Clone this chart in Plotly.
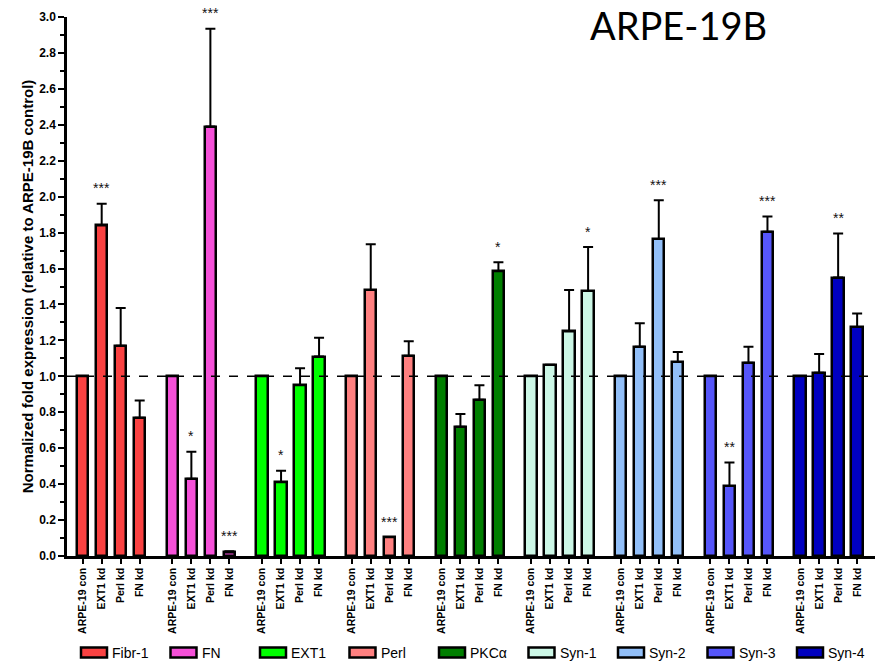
import plotly.graph_objects as go

# Gene groups, knock-down conditions and colours
groups = ["Fibr-1", "FN", "EXT1", "Perl", "PKCα", "Syn-1", "Syn-2", "Syn-3", "Syn-4"]
conditions = ["ARPE-19 con", "EXT1 kd", "Perl kd", "FN kd"]
colors = ["#FA4242", "#F550D8", "#00FF00", "#FF8080", "#007F00",
          "#CCF7E6", "#92BFF8", "#5656FA", "#0000C0"]

# Mean normalized fold expression per group (one value per condition)
fibr1 = [1.0, 1.84, 1.17, 0.77]
fn = [1.0, 0.43, 2.39, 0.02]
ext1 = [1.0, 0.41, 0.95, 1.11]
perl = [1.0, 1.48, 0.105, 1.115]
pkca = [1.0, 0.72, 0.87, 1.585]
syn1 = [1.0, 1.065, 1.25, 1.475]
syn2 = [1.0, 1.165, 1.765, 1.08]
syn3 = [1.0, 0.39, 1.075, 1.805]
syn4 = [1.0, 1.02, 1.55, 1.275]

# Upper error (SEM)
fibr1_err = [0, 0.12, 0.21, 0.095]
fn_err = [0, 0.15, 0.545, 0.006]
ext1_err = [0, 0.065, 0.095, 0.105]
perl_err = [0, 0.255, 0, 0.08]
pkca_err = [0, 0.07, 0.08, 0.05]
syn1_err = [0, 0, 0.23, 0.245]
syn2_err = [0, 0.13, 0.215, 0.055]
syn3_err = [0, 0.13, 0.09, 0.085]
syn4_err = [0, 0.105, 0.245, 0.075]

# Significance markers
fibr1_sig = ["", "***", "", ""]
fn_sig = ["", "*", "***", "***"]
ext1_sig = ["", "*", "", ""]
perl_sig = ["", "", "***", ""]
pkca_sig = ["", "", "", "*"]
syn1_sig = ["", "", "", "*"]
syn2_sig = ["", "", "***", ""]
syn3_sig = ["", "**", "", "***"]
syn4_sig = ["", "", "**", ""]

values = [fibr1, fn, ext1, perl, pkca, syn1, syn2, syn3, syn4]
errors = [fibr1_err, fn_err, ext1_err, perl_err, pkca_err, syn1_err, syn2_err, syn3_err, syn4_err]
sigs = [fibr1_sig, fn_sig, ext1_sig, perl_sig, pkca_sig, syn1_sig, syn2_sig, syn3_sig, syn4_sig]

W, H = 890, 664
ML, MR, MT, MB = 67, 15, 17, 108
PW, PH = W - ML - MR, H - MT - MB
GROUP_STEP = 4.72  # spacing between group starts, in bar slots


def px_x(p):
    return (p - ML) / PW


def px_y(p):
    return (H - MB - p) / PH


fig = go.Figure()
tickvals, ticktext = [], []
annotations, shapes = [], []
for g, name in enumerate(groups):
    xs = [g * GROUP_STEP + i for i in range(len(conditions))]
    tickvals += xs
    ticktext += conditions
    fig.add_trace(go.Bar(
        x=xs, y=values[g], name=name, width=0.6,
        marker=dict(color=colors[g], line=dict(color="black", width=2.5)),
        error_y=dict(type="data", array=errors[g], arrayminus=[0] * 4, symmetric=False,
                     color="black", thickness=2, width=5),
    ))
    for x, v, e, s in zip(xs, values[g], errors[g], sigs[g]):
        if s:
            annotations.append(dict(x=x, y=v + e + 0.03, xref="x", yref="y", text=s,
                                    showarrow=False, yanchor="bottom",
                                    font=dict(family="Liberation Sans, Arial", size=14, color="#111")))
    # legend entry under the axis
    lx = 81 + g * 89.5
    shapes.append(dict(type="rect", xref="paper", yref="paper",
                       x0=px_x(lx), x1=px_x(lx + 26), y0=px_y(657.5), y1=px_y(647.5),
                       fillcolor=colors[g], line=dict(color="black", width=2.5)))
    annotations.append(dict(x=px_x(lx + 29), y=px_y(652.5), xref="paper", yref="paper",
                            text=name, showarrow=False, xanchor="left", yanchor="middle",
                            font=dict(family="Liberation Sans, Arial", size=14, color="black")))

annotations.append(dict(x=px_x(678), y=px_y(0), xref="paper", yref="paper", text="ARPE-19B",
                        showarrow=False, xanchor="center", yanchor="top",
                        font=dict(family="Lato, Carlito, sans-serif", size=38, color="black")))

# reference line at fold change 1
shapes.append(dict(type="line", xref="paper", yref="y", x0=0, x1=1, y0=1.0, y1=1.0,
                   line=dict(color="black", width=1.5, dash="dash")))

fig.update_layout(
    width=W, height=H,
    margin=dict(l=ML, r=MR, t=MT, b=MB, autoexpand=False),
    plot_bgcolor="white", paper_bgcolor="white",
    bargap=0, showlegend=False,
    annotations=annotations, shapes=shapes,
    font=dict(family="Liberation Sans, Arial", color="black"),
)
fig.update_xaxes(
    range=[-0.826, 41.7], tickmode="array", tickvals=tickvals, ticktext=ticktext,
    tickangle=-90, ticks="outside", ticklen=5, tickwidth=2, tickcolor="black",
    tickfont=dict(family="Liberation Sans, Arial", size=10.5, weight="bold"),
    showline=True, linecolor="black", linewidth=2.5, showgrid=False, zeroline=False,
    automargin=False,
)
fig.update_yaxes(
    range=[0, 3.0], dtick=0.2, tick0=0, tickformat=".1f",
    ticks="outside", ticklen=6, tickwidth=2, tickcolor="black",
    minor=dict(dtick=0.1, ticks="outside", ticklen=4, tickwidth=2, tickcolor="black"),
    tickfont=dict(family="Liberation Sans, Arial", size=12, weight="bold"),
    showline=True, linecolor="black", linewidth=2.5, showgrid=False, zeroline=False,
    automargin=False,
    title=dict(text="Normalized fold expression (relative to ARPE-19B control)",
               font=dict(family="Liberation Sans, Arial", size=15, weight="bold"), standoff=2),
)

fig.write_html("out.html")
